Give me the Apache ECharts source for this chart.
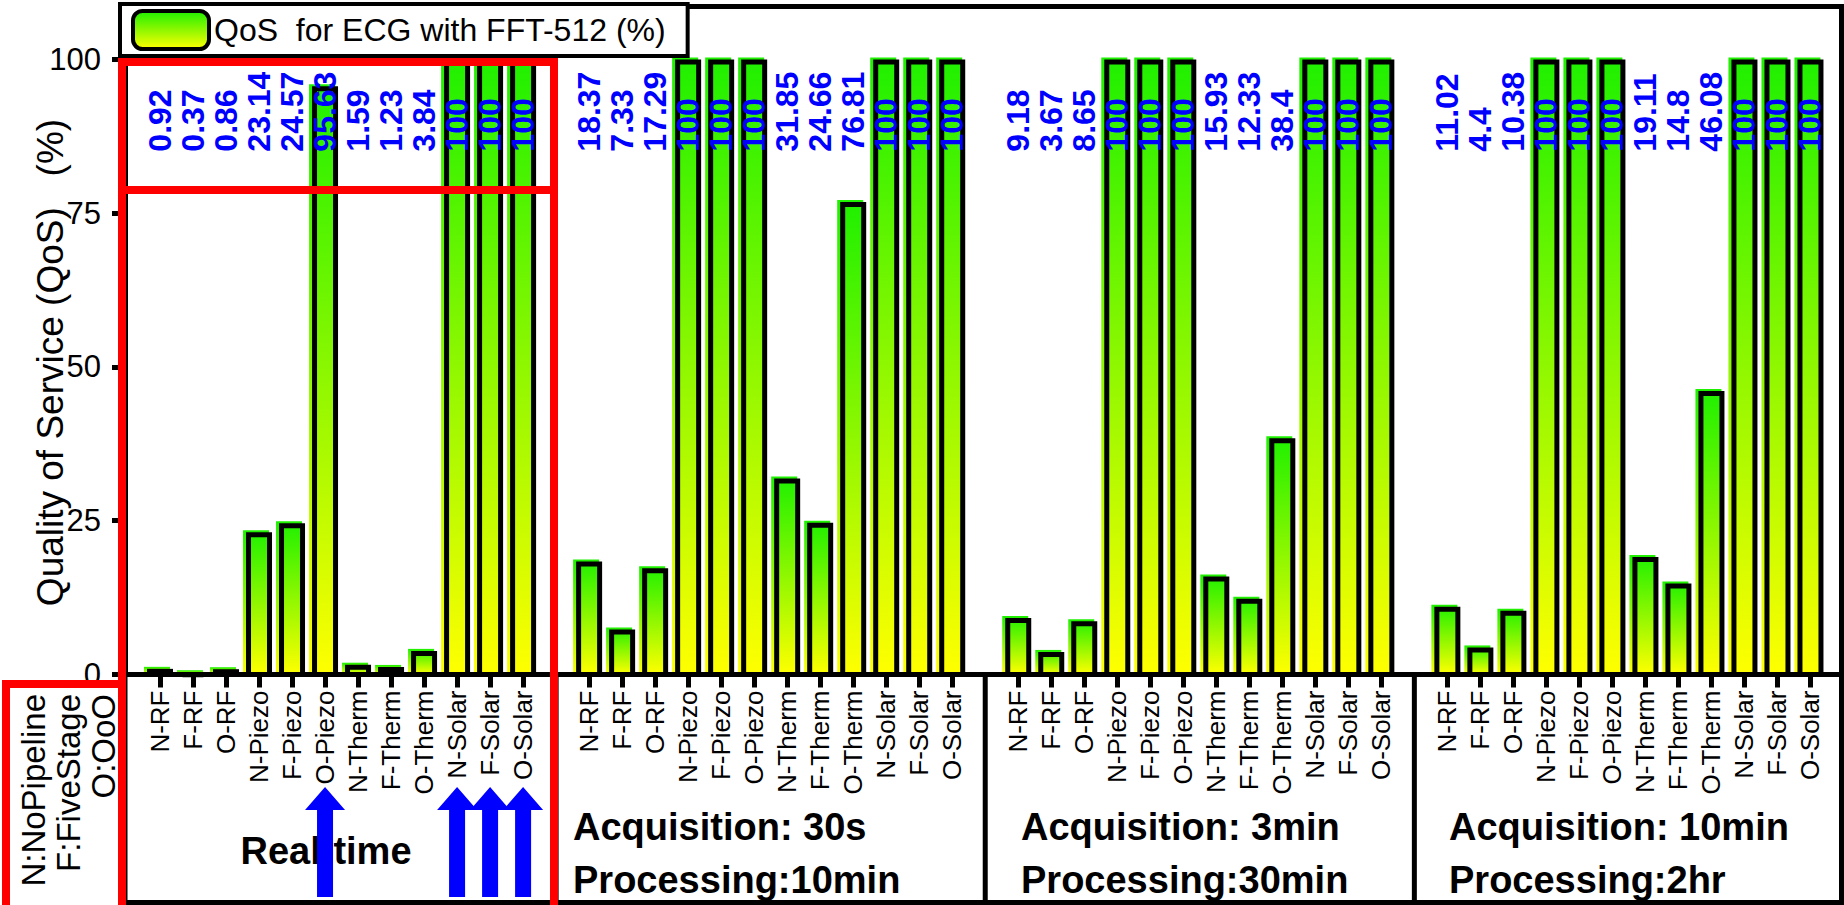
<!DOCTYPE html>
<html>
<head>
<meta charset="utf-8">
<script src="https://cdn.jsdelivr.net/npm/echarts@6/dist/echarts.min.js"></script>
<style>
  html, body { margin: 0; padding: 0; background: #fff; }
  #chart { width: 1844px; height: 905px; }
</style>
</head>
<body>
<div id="chart"></div>
<script>
// ---- data ----
const categories = ['N-RF', 'F-RF', 'O-RF', 'N-Piezo', 'F-Piezo', 'O-Piezo',
                    'N-Therm', 'F-Therm', 'O-Therm', 'N-Solar', 'F-Solar', 'O-Solar'];
const qosRealTime  = [0.92, 0.37, 0.86, 23.14, 24.57, 95.63, 1.59, 1.23, 3.84, 100, 100, 100];
const qosAcq30s    = [18.37, 7.33, 17.29, 100, 100, 100, 31.85, 24.66, 76.81, 100, 100, 100];
const qosAcq3min   = [9.18, 3.67, 8.65, 100, 100, 100, 15.93, 12.33, 38.4, 100, 100, 100];
const qosAcq10min  = [11.02, 4.4, 10.38, 100, 100, 100, 19.11, 14.8, 46.08, 100, 100, 100];
const groupCaptions = [
  ['Real-time'],
  ['Acquisition: 30s', 'Processing:10min'],
  ['Acquisition: 3min', 'Processing:30min'],
  ['Acquisition: 10min', 'Processing:2hr']
];
const yTickValues = [0, 25, 50, 75, 100];
const prefixNotes = ['N:NoPipeline', 'F:FiveStage', 'O:OoO'];
const arrowMarks = [[0, 'O-Piezo'], [0, 'N-Solar'], [0, 'F-Solar'], [0, 'O-Solar']];
const seriesName = 'QoS  for ECG with FFT-512 (%)';
const yAxisName = 'Quality of Service (QoS)   (%)';

// ---- layout constants ----
const GROUP_STRIDE = 13.0;   // x units from one group's first bar to the next
const X_MIN = -1.06, X_MAX = 50.94;
const Y_MAX = 108.6;         // frame top sits above the 100 line
const LABEL_LEVEL = 85;      // value labels start at this height
const BAR_W = 26, BORDER = 5, FILL_DX = 3, FILL_DY = 2;
const FONT = "'Liberation Sans', Arial, sans-serif";
const NARROW = "'Liberation Sans Narrow', 'Liberation Sans', Arial, sans-serif";

const groups = [qosRealTime, qosAcq30s, qosAcq3min, qosAcq10min];
const positions = [];
const posName = {};
const barData = [];
groups.forEach((vals, g) => {
  vals.forEach((v, i) => {
    const p = +(g * GROUP_STRIDE + i).toFixed(3);
    positions.push(p);
    posName[p.toFixed(3)] = categories[i];
    barData.push([p, v]);
  });
});

function barGradient() {
  return new echarts.graphic.LinearGradient(0, 0, 0, 1, [
    { offset: 0, color: '#1ef000' },
    { offset: 1, color: '#ffff00' }
  ]);
}

function renderBar(params, api) {
  const p = api.value(0), v = api.value(1);
  const top = api.coord([p, v]);
  const base = api.coord([p, 0]);
  const lab = api.coord([p, LABEL_LEVEL]);
  const h = base[1] - top[1];
  const left = top[0] - BAR_W / 2;
  return {
    type: 'group',
    children: [
      { type: 'rect',
        shape: { x: left - FILL_DX, y: top[1] - FILL_DY, width: BAR_W, height: h + FILL_DY },
        style: { fill: barGradient() } },
      { type: 'rect',
        shape: { x: left + BORDER / 2, y: top[1] + BORDER / 2, width: BAR_W - BORDER, height: Math.max(h - BORDER / 2, 0) },
        style: { fill: 'none', stroke: '#000', lineWidth: BORDER } },
      { type: 'text', x: lab[0], y: lab[1], rotation: Math.PI / 2, z2: 10,
        style: { text: String(v), fill: '#0000ff', fontSize: 32, fontWeight: 'bold',
                 fontFamily: NARROW, align: 'left', verticalAlign: 'middle' } }
    ]
  };
}

const chart = echarts.init(document.getElementById('chart'), null, { renderer: 'svg' });

const option = {
  animation: false,
  backgroundColor: '#fff',
  grid: { left: 125, right: 2.5, top: 6.5, bottom: 230.5, show: true,
          borderColor: '#000', borderWidth: 5, backgroundColor: 'transparent' },
  legend: {
    left: 120, top: 4, padding: [5, 22, 5, 11],
    borderColor: '#000', borderWidth: 4, backgroundColor: '#fff',
    itemWidth: 76, itemHeight: 38, z: 20,
    textStyle: { fontSize: 32, color: '#000', fontFamily: FONT },
    data: [{ name: seriesName, icon: 'roundRect',
             itemStyle: { color: barGradient(), borderColor: '#000', borderWidth: 4 } }]
  },
  xAxis: {
    type: 'value', min: X_MIN, max: X_MAX, z: 5,
    splitLine: { show: false },
    axisLine: { onZero: false, lineStyle: { color: '#000', width: 5 } },
    axisTick: { customValues: positions, length: 13, lineStyle: { color: '#000', width: 5 } },
    axisLabel: {
      customValues: positions, rotate: 90, margin: 16, fontSize: 26, color: '#000', fontFamily: FONT,
      formatter: v => posName[(+v).toFixed(3)] || ''
    }
  },
  yAxis: {
    type: 'value', min: 0, max: Y_MAX, z: 5,
    name: yAxisName, nameLocation: 'middle', nameGap: 56, nameMoveOverlap: false,
    nameTextStyle: { fontSize: 37, color: '#000', fontFamily: FONT, padding: [0, 44, 0, 0] },
    splitLine: { show: false },
    axisLine: { show: true, onZero: false, lineStyle: { color: '#000', width: 5 } },
    axisTick: { customValues: yTickValues, length: 13, lineStyle: { color: '#000', width: 5 } },
    axisLabel: { customValues: yTickValues, margin: 24, fontSize: 31, color: '#000', fontFamily: FONT }
  },
  series: [{
    type: 'custom', name: seriesName,
    itemStyle: { color: barGradient(), borderColor: '#000', borderWidth: 4 },
    renderItem: renderBar,
    encode: { x: 0, y: 1 },
    data: barData
  }]
};
chart.setOption(option);

// ---- panel under the axis: separators, captions, notes, arrows, highlight boxes ----
const px = p => chart.convertToPixel({ xAxisIndex: 0 }, p);
const AXIS_Y = 674, BOTTOM_Y = 902.5, FRAME_L = 125, FRAME_R = 1841.5;
const gfx = [];
const blackLine = (x1, y1, x2, y2) => ({ type: 'line', z: 30,
  shape: { x1, y1, x2, y2 }, style: { stroke: '#000', lineWidth: 5 } });

gfx.push(blackLine(FRAME_L, AXIS_Y, FRAME_L, 905));
gfx.push(blackLine(FRAME_R, AXIS_Y, FRAME_R, 905));
gfx.push(blackLine(FRAME_L, BOTTOM_Y, FRAME_R, BOTTOM_Y));
for (let g = 1; g < groups.length; g++) {
  const x = px(g * GROUP_STRIDE - (GROUP_STRIDE - 11) / 2);
  gfx.push(blackLine(x, AXIS_Y, x, 905));
}

// captions (y = vertical middle of each line)
const captionFont = { fontSize: 38, fontWeight: 'bold', fontFamily: FONT, fill: '#000' };
gfx.push({ type: 'text', z: 31, x: 326, y: 851,
  style: Object.assign({ text: groupCaptions[0][0], align: 'center', verticalAlign: 'middle' }, captionFont) });
const captionLeft = [null, 573, 1021, 1449];
for (let g = 1; g < groups.length; g++) {
  groupCaptions[g].forEach((t, k) => {
    gfx.push({ type: 'text', z: 31, x: captionLeft[g], y: k === 0 ? 827 : 880,
      style: Object.assign({ text: t, align: 'left', verticalAlign: 'middle' }, captionFont) });
  });
}

// prefix legend notes, read bottom to top
prefixNotes.forEach((t, k) => {
  gfx.push({ type: 'text', z: 31, x: 33 + k * 35, y: 694, rotation: Math.PI / 2,
    style: { text: t, align: 'right', verticalAlign: 'middle', fontSize: 33, fontFamily: FONT, fill: '#000' } });
});

// blue arrows under highlighted bars
arrowMarks.forEach(([g, name]) => {
  const cx = px(g * GROUP_STRIDE + categories.indexOf(name));
  const tip = 787, neck = 810, foot = 897, hw = 20, sw = 8;
  gfx.push({ type: 'polygon', z: 32,
    shape: { points: [[cx, tip], [cx + hw, neck], [cx + sw, neck], [cx + sw, foot],
                      [cx - sw, foot], [cx - sw, neck], [cx - hw, neck]] },
    style: { fill: '#0000ff' } });
});

// red highlight boxes
const red = { stroke: '#ff0000', lineWidth: 8, fill: 'none' };
gfx.push({ type: 'rect', z: 40, shape: { x: 122, y: 62, width: 432, height: 850 }, style: red });
gfx.push({ type: 'line', z: 40, shape: { x1: 122, y1: 190, x2: 554, y2: 190 }, style: { stroke: '#ff0000', lineWidth: 8 } });
gfx.push({ type: 'rect', z: 40, shape: { x: 6, y: 684, width: 116, height: 228 }, style: red });

chart.setOption({ graphic: gfx });
</script>
</body>
</html>
